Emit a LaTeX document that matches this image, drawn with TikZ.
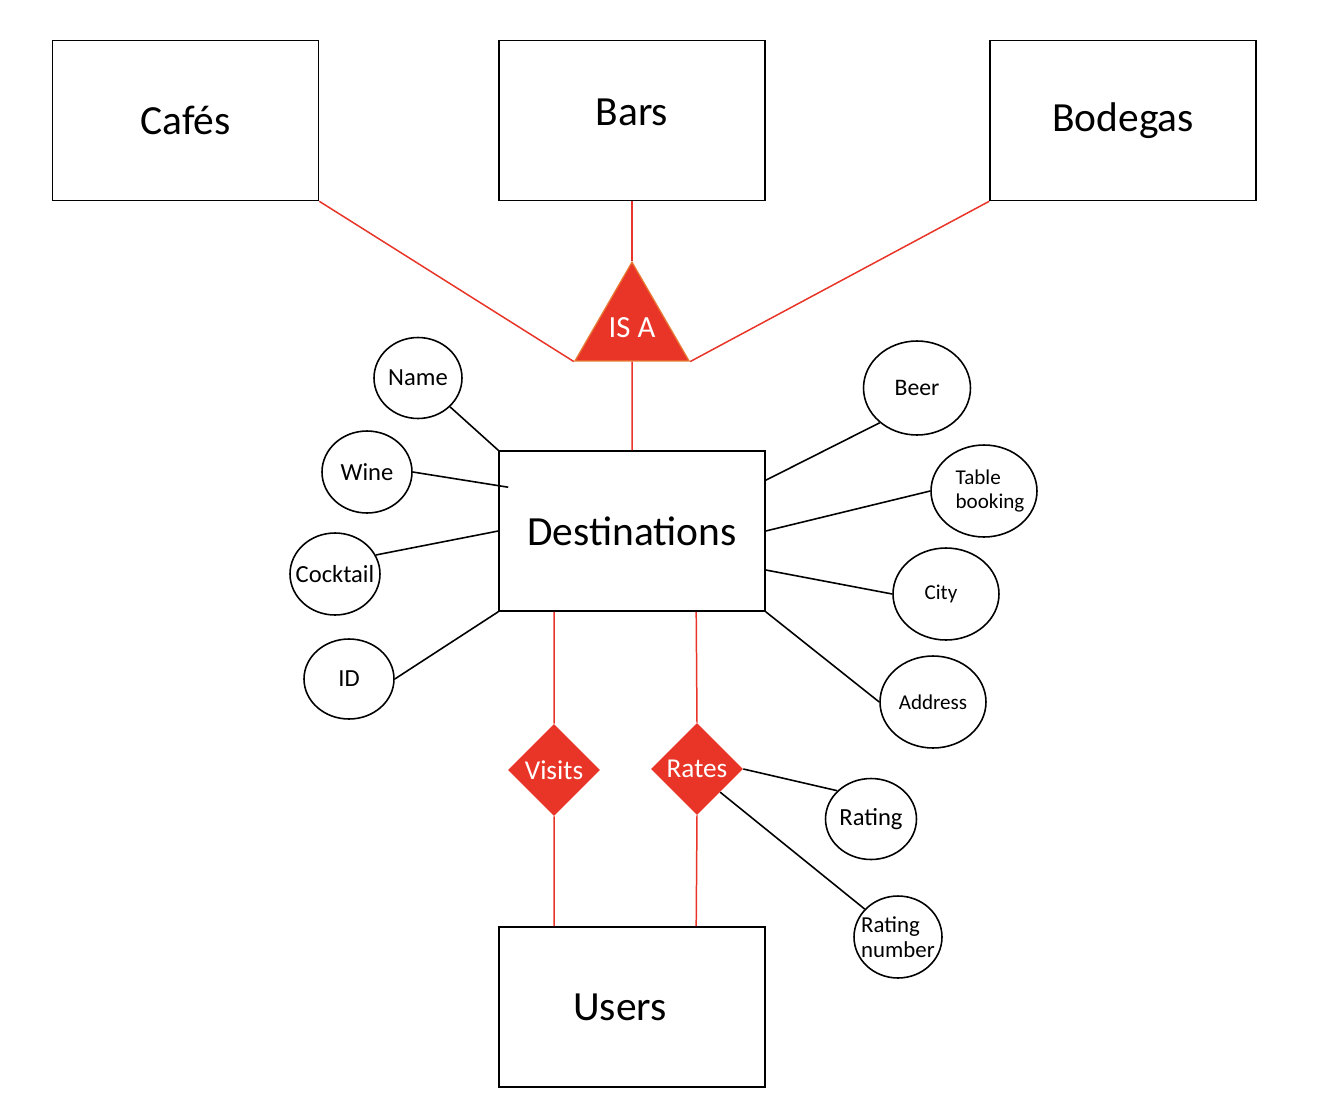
\documentclass[tikz,border=0pt]{standalone}
\usepackage{fontspec}
\setmainfont{Carlito}
\usepackage{tikz}
\usetikzlibrary{shapes.geometric, positioning}
\definecolor{errred}{RGB}{233,53,40}
\definecolor{isaorange}{RGB}{232,122,52}

\begin{document}
\begin{tikzpicture}[x=0.02cm, y=-0.02cm,
    entity/.style={draw, line width=0.9pt, minimum width=5.32cm, minimum height=3.2cm, font=\fontsize{23.6pt}{28pt}\selectfont},
    attr/.style={draw, ellipse, line width=0.9pt, inner sep=0pt, minimum width=1.8cm, minimum height=1.64cm, font=\fontsize{14pt}{16pt}\selectfont},
    attrwide/.style={attr, minimum width=2.12cm, minimum height=1.84cm, font=\fontsize{12pt}{14pt}\selectfont},
    rel/.style={diamond, fill=errred, text=white, inner sep=0pt, minimum size=1.84cm, font=\fontsize{15.5pt}{18pt}\selectfont},
    redline/.style={errred, line width=0.85pt},
    attrline/.style={black, line width=0.9pt}]
    \useasboundingbox (0,0) rectangle (1326,1106);

    % Entities
    \node[entity] (cafes) at (185.5,120.5) {Cafés};
    \node[entity, text height=0.5cm, text depth=0.3cm] (bars) at (632,120.5) {Bars};
    \node[entity] (bodegas) at (1123,120.5) {Bodegas};
    \node[entity] (dest) at (632,531) {Destinations};
    \node[entity] (users) at (632,1007) {Users\kern0.48cm};

    % IS A triangle
    \node[regular polygon, regular polygon sides=3, fill=errred, draw=isaorange, line width=0.7pt,
          inner sep=0pt, minimum size=2.43cm, text=white, font=\fontsize{17.5pt}{20pt}\selectfont] (isa) at (632,328) {IS A};

    % Relationships
    \node[rel] (visits) at (554,770) {Visits};
    \node[rel] (rates) at (697,769) {Rates};

    % Attributes, left
    \node[attr, minimum width=1.76cm, minimum height=1.62cm] (name) at (418,378) {Name};
    \node[attr] (wine) at (367,472) {Wine};
    \node[attr, inner xsep=-0.2cm] (cocktail) at (335,574) {Cocktail};
    \node[attr, minimum height=1.6cm] (id) at (349,679) {ID};

    % Attributes, right
    \node[attrwide, minimum width=2.14cm, minimum height=1.88cm, font=\fontsize{13.5pt}{16pt}\selectfont] (beer) at (917,388) {Beer};
    \node[attrwide, align=left, inner xsep=-0.12cm] (table) at (984,491) {\kern0.24cm Table\\\kern0.24cm booking};
    \node[attrwide] (city) at (946,594) {\kern-0.2cm City};
    \node[attrwide] (address) at (933,702) {Address};
    \node[attr, minimum width=1.82cm, minimum height=1.62cm] (rating) at (871,819) {Rating};
    \node[attr, minimum width=1.76cm, inner xsep=-0.15cm, align=left, font=\fontsize{13pt}{14.5pt}\selectfont] (ratingnum) at (898,937) {Rating\\number};

    % IS A links
    \draw[redline] (cafes.south east) -- (isa.corner 2);
    \draw[redline] (bodegas.south west) -- (isa.corner 3);
    \draw[redline] (bars.south) -- (isa.corner 1);
    \draw[redline] (isa.south) -- (dest.north);

    % Relationship links
    \draw[redline] ([xshift=1.12cm]dest.south west) -- (visits.north);
    \draw[redline] (visits.south) -- ([xshift=1.12cm]users.north west);
    \draw[redline] ([xshift=3.96cm]dest.south west) -- (rates.north);
    \draw[redline] (rates.south) -- ([xshift=3.96cm]users.north west);

    % Attribute links
    \draw[attrline] (name) -- (dest.north west);
    \draw[attrline] (wine.east) -- ([shift={(0.2cm,-0.74cm)}]dest.north west);
    \draw[attrline] (cocktail.25) -- (dest.west);
    \draw[attrline] (id.east) -- (dest.south west);
    \draw[attrline] (beer.223) -- ([yshift=-0.6cm]dest.north east);
    \draw[attrline] (table.west) -- (dest.east);
    \draw[attrline] (city.west) -- ([yshift=-0.78cm]dest.east);
    \draw[attrline] (address.west) -- (dest.south east);
    \draw[attrline] (rating.140) -- (rates.east);
    \draw[attrline] (ratingnum.140) -- (rates.south east);
\end{tikzpicture}
\end{document}
